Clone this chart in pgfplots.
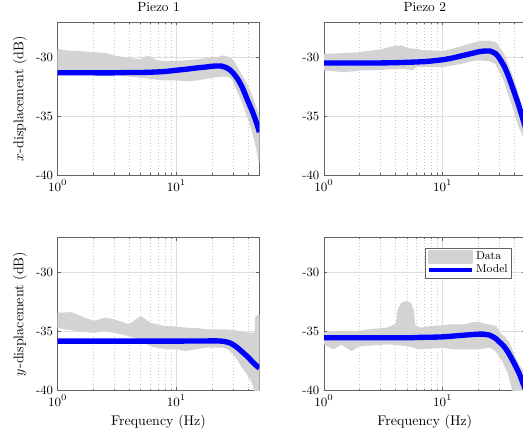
\RequirePackage{fix-cm}
\documentclass[border=0pt]{standalone}
\usepackage{pgfplots}
\pgfplotsset{compat=1.18}

\definecolor{datagray}{RGB}{211,211,211}
\definecolor{modelblue}{RGB}{0,0,255}
\definecolor{axisgray}{RGB}{100,100,100}
\definecolor{gridmaj}{RGB}{222,222,222}
\definecolor{gridmin}{RGB}{200,200,200}

\pgfplotsset{
  piezo/.style={
    scale only axis, width=151.2pt, height=115pt,
    xmin=1, xmax=50, ymin=-40, ymax=-27,
    xtick={1,10}, minor xtick={2,3,4,5,6,7,8,9,20,30,40,50},
    ytick={-40,-35,-30}, yticklabels={-40,-35,-30},
    grid=both,
    major grid style={color=gridmaj, solid, line width=0.4pt},
    minor grid style={color=gridmin, dotted, line width=0.5pt},
    axis line style={axisgray, line width=0.6pt},
    tick style={axisgray, line width=0.4pt},
    tick align=inside, major tick length=2.5pt, minor tick length=1.5pt,
    tick label style={font=\fontsize{9.5}{11}\selectfont},
    label style={font=\fontsize{10.5}{12}\selectfont},
    title style={font=\fontsize{10}{12}\selectfont, yshift=-2pt},
  },
  datastyle/.style={fill=datagray, draw=datagray, line width=1.5pt, line join=round,
    legend image code/.code={\fill[datagray] (0pt,-4.5pt) rectangle (32pt,4.5pt);}},
  modelstyle/.style={color=modelblue, line width=4pt, no marks, smooth, tension=0.4,
    legend image code/.code={\draw[modelblue, line width=3pt] (0pt,0pt) -- (32pt,0pt);}},
}

\begin{document}
\begin{tikzpicture}
\path[use as bounding box] (0,0) rectangle (392.25pt,324pt);

% Piezo 1, x
\begin{semilogxaxis}[piezo, at={(43.3pt,192.5pt)}, anchor=south west,
  title={Piezo 1}, ylabel={$x$-displacement (dB)}]
\addplot[datastyle] coordinates {
 (1,-29.36) (1.2,-29.5) (1.5,-29.55) (2,-29.64) (2.5,-29.7) (3,-29.92) (4,-30.14) (5,-30.25)
 (5.6,-29.95) (6,-30.06) (7,-30.34) (8,-30.42) (10,-30.39) (12,-30.34) (15,-30.25) (18,-30.14)
 (20,-30.08) (22,-30.06) (25,-29.92) (28,-30.06) (30,-30.34) (33,-31.03) (36,-31.73) (40,-32.57)
 (44,-33.55) (48,-34.66) (50,-35.22)
 (50,-38.85) (48,-37.74) (44,-36.20) (40,-34.94) (36,-33.69) (33,-32.85) (30,-31.87) (28,-31.59)
 (25,-31.54) (22,-31.59) (20,-31.65) (18,-31.73) (15,-31.87) (12,-31.93) (10,-31.87) (8,-31.87)
 (7,-31.82) (6,-31.73) (5,-31.65) (4,-31.54) (3,-31.35) (2,-31.25) (1.5,-31.2) (1,-31.2)
} -- cycle;
\addplot[modelstyle] coordinates {
 (1,-31.31) (1.5,-31.31) (2,-31.31) (3,-31.31) (4,-31.28) (5,-31.28) (6,-31.26) (7,-31.23)
 (8,-31.20) (10,-31.09) (12,-31.01) (15,-30.89) (18,-30.81) (20,-30.75) (22,-30.73) (24,-30.74)
 (26,-30.85) (28,-31.03) (30,-31.31) (33,-31.87) (36,-32.57) (40,-33.69) (44,-34.66) (48,-35.73)
 (50,-36.34)
};
\end{semilogxaxis}

% Piezo 2, x
\begin{semilogxaxis}[piezo, at={(243pt,192.5pt)}, anchor=south west,
  title={Piezo 2}]
\addplot[datastyle] coordinates {
 (1,-29.78) (1.5,-29.72) (2,-29.64) (3,-29.41) (4,-29.08) (4.6,-29.1) (5,-29.30) (6,-29.36)
 (7,-29.50) (8,-29.50) (10,-29.55) (12,-29.36) (15,-29.08) (18,-28.85) (20,-28.74) (22,-28.66)
 (25,-28.66) (28,-28.80) (30,-29.22) (33,-29.92) (36,-30.89) (40,-32.15) (44,-33.55) (48,-34.94)
 (50,-35.5)
 (50,-37.2) (48,-36.62) (44,-35.78) (40,-34.39) (36,-32.99) (33,-31.87) (30,-31.03) (28,-30.47)
 (25,-30.25) (22,-30.20) (20,-30.20) (18,-30.20) (15,-30.42) (12,-30.61) (10,-30.75) (8,-30.75)
 (6,-30.75) (5.5,-31.03) (5,-30.89) (4,-30.89) (3,-30.98) (2,-31.03) (1.5,-31.17) (1,-31.03)
} -- cycle;
\addplot[modelstyle] coordinates {
 (1,-30.47) (1.5,-30.47) (2,-30.47) (3,-30.47) (4,-30.45) (5,-30.42) (6,-30.39) (7,-30.36)
 (8,-30.31) (10,-30.20) (12,-30.06) (15,-29.83) (18,-29.64) (20,-29.53) (22,-29.47) (25,-29.46)
 (28,-29.69) (30,-30.06) (33,-30.75) (36,-31.65) (40,-32.93) (44,-34.16) (48,-35.4) (50,-36.0)
};
\end{semilogxaxis}

% Piezo 1, y
\begin{semilogxaxis}[piezo, at={(43.3pt,31.1pt)}, anchor=south west,
  ylabel={$y$-displacement (dB)}, xlabel={Frequency (Hz)}]
\addplot[datastyle] coordinates {
 (1,-33.49) (1.3,-33.44) (1.5,-33.7) (2,-34.19) (2.5,-33.91) (3,-34.05) (4,-34.47) (5,-33.77)
 (6,-34.33) (7,-34.5) (8,-34.61) (10,-34.66) (12,-34.75) (15,-34.8) (18,-34.89) (20,-34.89)
 (25,-34.89) (30,-34.95) (33,-35.03) (36,-35.1) (40,-35.17) (44,-35.17) (46.5,-35.2) (47,-33.8)
 (50,-33.6)
 (50,-40.2) (47,-40.2) (44,-39.3) (40,-38.6) (36,-37.96) (33,-37.3) (30,-36.84) (28,-36.5)
 (25,-36.28) (20,-36.28) (18,-36.28) (15,-36.4) (12,-36.56) (10,-36.42) (8,-36.42) (7,-36.3)
 (6,-36.15) (5,-35.6) (4,-35.3) (3.5,-35.17) (3,-35.03) (2.5,-34.89) (2,-35.03) (1.5,-34.9)
 (1,-34.61)
} -- cycle;
\addplot[modelstyle] coordinates {
 (1,-35.81) (2,-35.81) (5,-35.81) (10,-35.81) (15,-35.80) (20,-35.79) (22,-35.79) (25,-35.83)
 (28,-35.95) (30,-36.1) (33,-36.4) (36,-36.74) (40,-37.15) (44,-37.6) (48,-37.95) (50,-38.1)
};
\end{semilogxaxis}

% Piezo 2, y
\begin{semilogxaxis}[piezo, at={(243pt,31.1pt)}, anchor=south west,
  xlabel={Frequency (Hz)},
  legend style={at={(0.9325,0.93)}, anchor=north east, draw=axisgray,
    fill=white, font=\fontsize{8.5}{10}\selectfont, inner xsep=1.5pt, inner ysep=1pt,
    nodes={inner sep=1.5pt}, row sep=-0.5pt},
  legend cell align=left]
\addplot[datastyle] coordinates {
 (1,-35.17) (1.3,-35.03) (2,-35.03) (2.4,-34.89) (3.4,-34.75) (4.1,-34.4) (4.25,-33.2) (4.5,-32.65)
 (4.9,-32.5) (5.3,-32.6) (5.6,-33.2) (5.75,-34.5) (6.5,-34.75) (8,-34.61) (10,-34.55) (12,-34.47)
 (15,-34.47) (18,-34.3) (20,-34.27) (22,-34.39) (25,-34.5) (28,-34.61) (30,-35.17) (33,-35.5)
 (36,-36.0) (40,-37.12) (44,-37.96) (48,-38.52) (50,-38.8)
 (50,-40.2) (40,-40.2) (36,-38.52) (32,-37.4) (28,-36.56) (25,-36.28) (20,-36.42) (12,-36.42)
 (10,-36.28) (6.5,-36.42) (5,-36.15) (3.5,-36.0) (2,-36.15) (1.7,-36.56) (1.4,-36.0) (1.2,-36.42)
 (1,-36.0)
} -- cycle;
\addlegendentry{Data}
\addplot[modelstyle] coordinates {
 (1,-35.53) (2,-35.53) (5,-35.53) (6,-35.50) (8,-35.48) (10,-35.45) (12,-35.39) (15,-35.31)
 (18,-35.25) (20,-35.22) (22,-35.22) (25,-35.31) (28,-35.59) (30,-35.87) (33,-36.28) (36,-36.84)
 (40,-37.68) (44,-38.52) (48,-39.5) (50,-39.92)
};
\addlegendentry{Model}
\end{semilogxaxis}
\end{tikzpicture}
\end{document}
